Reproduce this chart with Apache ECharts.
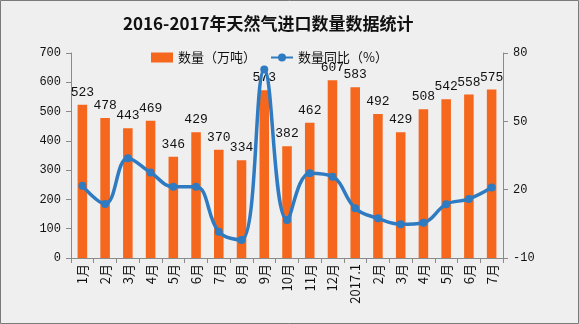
<!DOCTYPE html>
<html>
<head>
<meta charset="utf-8">
<script src="https://cdn.jsdelivr.net/npm/echarts@6/dist/echarts.min.js"></script>
<style>
  html, body { margin: 0; padding: 0; background: #efefef; }
  #chart { width: 579px; height: 324px; }
</style>
</head>
<body>
<div id="chart"></div>
<script>
// Monthly natural gas imports, Jan 2016 – Jul 2017
const months = ['1月','2月','3月','4月','5月','6月','7月','8月','9月','10月','11月','12月','2017.1','2月','3月','4月','5月','6月','7月'];
const volume = [523, 478, 443, 469, 346, 429, 370, 334, 573, 382, 462, 607, 583, 492, 429, 508, 542, 558, 575];
const yoy = [21.7, 13.7, 33.8, 27.5, 21.3, 21.3, 1.5, -2.1, 72.8, 6.7, 27.2, 25.7, 11.8, 7.4, 4.8, 5.5, 13.6, 15.9, 20.9];
const leftTicks = { min: 0, max: 700, interval: 100 };
const rightTicks = { min: -10, max: 80, interval: 30 };

const mono = '"Liberation Mono", "Noto Sans CJK SC", monospace';
const cjk = '"Noto Sans CJK SC", sans-serif';
const axisGray = '#8a8a8a';

const chart = echarts.init(document.getElementById('chart'), null, { renderer: 'canvas' });
chart.setOption({
  backgroundColor: '#efefef',
  animation: false,
  title: {
    text: '2016-2017年天然气进口数量数据统计',
    left: 118,
    top: 10,
    textStyle: { fontFamily: cjk, fontSize: 17, fontWeight: 'bold', color: '#111' }
  },
  legend: {
    top: 46,
    left: 146,
    itemGap: 14,
    itemWidth: 22,
    itemHeight: 10,
    textStyle: { fontFamily: cjk, fontSize: 13, color: '#111' },
    data: [
      { name: '数量（万吨）', icon: 'rect' },
      { name: '数量同比（%）' }
    ]
  },
  graphic: [{
    type: 'rect',
    shape: { x: 0.5, y: 0.5, width: 578, height: 323 },
    style: { fill: 'none', stroke: '#7a7a7a', lineWidth: 1 },
    silent: true
  }],
  grid: { left: 71, right: 76, top: 53, bottom: 66, containLabel: false },
  xAxis: {
    type: 'category',
    data: months,
    boundaryGap: true,
    axisLine: { show: true, lineStyle: { color: axisGray } },
    axisTick: { show: true, length: 5, lineStyle: { color: axisGray } },
    axisLabel: { rotate: 90, interval: 0, margin: 6, fontFamily: cjk, fontSize: 13, color: '#111' }
  },
  yAxis: [
    {
      type: 'value',
      min: leftTicks.min, max: leftTicks.max, interval: leftTicks.interval,
      splitLine: { show: false },
      axisLine: { show: true, lineStyle: { color: axisGray } },
      axisTick: { show: true, length: 5, lineStyle: { color: axisGray } },
      axisLabel: { margin: 10, fontFamily: mono, fontSize: 12, color: '#111' }
    },
    {
      type: 'value',
      min: rightTicks.min, max: rightTicks.max, interval: rightTicks.interval,
      splitLine: { show: false },
      axisLine: { show: true, lineStyle: { color: axisGray } },
      axisTick: { show: true, length: 5, lineStyle: { color: axisGray } },
      axisLabel: { margin: 10, fontFamily: mono, fontSize: 12, color: '#111' }
    }
  ],
  series: [
    {
      name: '数量（万吨）',
      type: 'bar',
      yAxisIndex: 0,
      data: volume,
      barWidth: '42%',
      itemStyle: { color: '#f4671c' },
      label: {
        show: true,
        position: 'top',
        distance: 6,
        fontFamily: mono,
        fontSize: 13,
        color: '#111'
      },
      z: 2
    },
    {
      name: '数量同比（%）',
      type: 'line',
      yAxisIndex: 1,
      data: yoy,
      smooth: 0.4,
      symbol: 'circle',
      symbolSize: 8,
      lineStyle: { color: '#2f7bc2', width: 3.5 },
      itemStyle: { color: '#2f7bc2' },
      z: 3
    }
  ]
});
</script>
</body>
</html>
